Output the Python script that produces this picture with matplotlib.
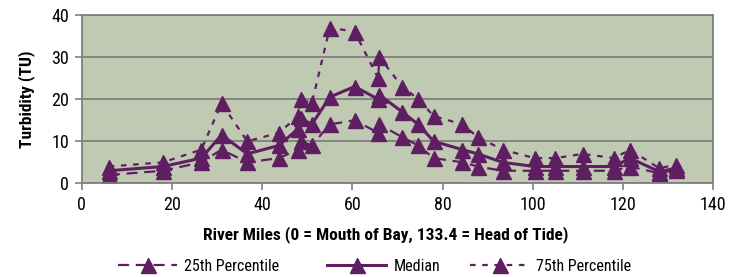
import matplotlib
matplotlib.use("Agg")
import matplotlib.pyplot as plt
from matplotlib import font_manager

# ---- data ----
river_miles = [6, 18, 26.5, 31, 36.7, 43.7, 48, 48.5, 51, 55, 60.5, 65.7, 66, 71, 74.6,
               78, 84.4, 87.8, 93.3, 100.4, 105, 111, 118, 121.5, 128, 131.7]
p25 = [2, 3, 5, 8, 5, 6, 8, 10, 9, 14, 15, 12, 14, 11, 9,
       6, 5, 4, 3, 3, 3, 3, 3, 4, 2.4, 3.2]
median = [3, 4, 6, 11.5, 7, 9, 13, 15.5, 14, 20.5, 23, 20, 21, 17, 14,
          10, 8, 7, 5, 4, 4, 4, 4, 6, 2.8, 3.6]
p75 = [4, 5, 8, 19, 10, 12, 16, 20, 19, 37, 36, 25, 30, 23, 20,
       16, 14, 11, 8, 6, 6, 7, 6, 8, 3.6, 4.4]

series_labels = ["25th Percentile", "Median", "75th Percentile"]
x_ticks = [0, 20, 40, 60, 80, 100, 120, 140]
y_ticks = [0, 10, 20, 30, 40]
x_label = "River Miles (0 = Mouth of Bay, 133.4 = Head of Tide)"
y_label = "Turbidity (TU)"

# ---- style ----
names = {f.name for f in font_manager.fontManager.ttflist}
cands = ["Roboto Condensed", "Open Sans Condensed", "Noto Sans Condensed",
         "Liberation Sans Narrow", "Arial Narrow"]
found = [c for c in cands if c in names]
narrow = bool(found)
fam = (found[:1] if found else ["Liberation Sans"]) + ["DejaVu Sans"]
plt.rcParams["font.family"] = fam

fs_tick = 13 if narrow else 12.5
fs_lab = 12.5 if narrow else 11
fs_leg = 11.5 if narrow else 10.5

purple = "#5F1E62"
bg = "#C0C9B1"
grid = "#7F7F7F"

fig = plt.figure(figsize=(7.44, 2.77), dpi=100)
ax = fig.add_axes([0.1098, 0.338, 0.849, 0.608])
ax.set_facecolor(bg)

ms = 10.8
styles = [dict(lw=1.6, linestyle=(0, (5, 3))),
          dict(lw=2.2, linestyle="-"),
          dict(lw=1.6, linestyle=(0, (2.5, 3)))]
lines = []
for vals, lab, st in zip([p25, median, p75], series_labels, styles):
    ln, = ax.plot(river_miles, vals, color=purple, marker="^", markersize=ms,
                  label=lab, **st)
    lines.append(ln)

ax.set_xlim(0, 140)
ax.set_ylim(0, 40)
ax.set_xticks(x_ticks)
ax.set_yticks(y_ticks)
ax.yaxis.grid(True, color=grid, lw=1.3)
ax.set_axisbelow(True)
for s in ax.spines.values():
    s.set_color(grid)
    s.set_linewidth(1.3)
ax.tick_params(axis="both", colors=grid, length=5, width=1.2, labelsize=fs_tick,
               labelcolor="black", pad=4)

ax.set_xlabel(x_label, fontsize=fs_lab, fontweight="bold", labelpad=9)
ax.xaxis.label.set_x(0.482)
ax.set_ylabel(y_label, fontsize=fs_lab, fontweight="bold", labelpad=12)

# three legend entries placed like the reference
starts = [118 / 744, 327 / 744, 470 / 744]
for ln, x0 in zip(lines, starts):
    lg = fig.legend(handles=[ln], loc="center left", bbox_to_anchor=(x0, 0.038),
                    frameon=False, fontsize=fs_leg, handlelength=3.7,
                    handletextpad=0.45, borderpad=0, borderaxespad=0)

fig.savefig("out.png", dpi=100, facecolor="white")
